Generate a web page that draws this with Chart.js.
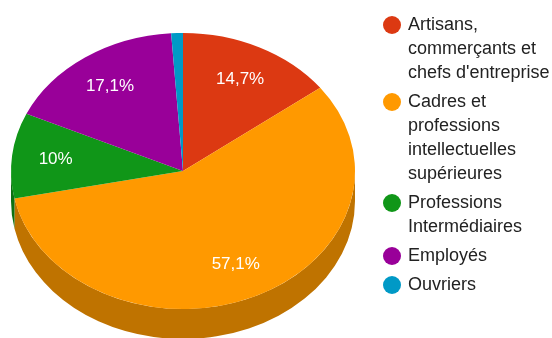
<!DOCTYPE html>
<html>
<head>
<meta charset="utf-8">
<script src="https://cdn.jsdelivr.net/npm/chart.js@4/dist/chart.umd.min.js"></script>
<style>
  html, body { margin: 0; padding: 0; background: #fff; }
  #wrap { width: 552px; height: 338px; position: relative; }
</style>
</head>
<body>
<div id="wrap"><canvas id="myChart"></canvas></div>
<script>
// catégories (une ligne de légende par élément du tableau)
var categories = [
  ['Artisans,', 'commerçants et', "chefs d'entreprise"],
  ['Cadres et', 'professions', 'intellectuelles', 'supérieures'],
  ['Professions', 'Intermédiaires'],
  ['Employés'],
  ['Ouvriers']
];
// parts en %
var parts = [14.7, 57.1, 10, 17.1, 1.1];
var couleurs = ['#DC3912', '#FF9900', '#109618', '#990099', '#0099C6'];

// effet 3D : ellipse étirée en largeur + épaisseur
var etirement = 172 / 138;
var epaisseur = 30;

// assombrit une couleur hex pour la tranche
function assombrir(hex, f) {
  var n = parseInt(hex.slice(1), 16);
  var r = Math.round(((n >> 16) & 255) * f);
  var g = Math.round(((n >> 8) & 255) * f);
  var b = Math.round((n & 255) * f);
  return 'rgb(' + r + ',' + g + ',' + b + ')';
}

function texteValeur(v) {
  return String(v).replace('.', ',') + '%';
}

var pie3d = {
  id: 'pie3d',
  beforeDatasetsDraw: function(chart) {
    var ctx = chart.ctx;
    var arcs = chart.getDatasetMeta(0).data;
    var cx = arcs[0].x, cy = arcs[0].y, r = arcs[0].outerRadius;
    ctx.save();
    ctx.translate(cx, cy);
    ctx.scale(etirement, 1);
    ctx.translate(-cx, -cy);
    // côtés visibles : seulement la moitié avant (0..PI)
    arcs.forEach(function(arc, i) {
      var s = Math.max(arc.startAngle, 0);
      var e = Math.min(arc.endAngle, Math.PI);
      if (s >= e) return;
      ctx.beginPath();
      ctx.arc(cx, cy + epaisseur, r, s, e);
      ctx.arc(cx, cy, r, e, s, true);
      ctx.closePath();
      ctx.fillStyle = assombrir(couleurs[i], 0.75);
      ctx.fill();
    });
  },
  afterDatasetsDraw: function(chart) {
    var ctx = chart.ctx;
    ctx.restore();
    var arcs = chart.getDatasetMeta(0).data;
    ctx.save();
    ctx.font = '17px "Liberation Sans", Arial, sans-serif';
    ctx.fillStyle = '#ffffff';
    ctx.textAlign = 'center';
    ctx.textBaseline = 'middle';
    arcs.forEach(function(arc, i) {
      if (parts[i] < 5) return;
      var mid = (arc.startAngle + arc.endAngle) / 2;
      var k = 0.745;
      var px = arc.x + Math.cos(mid) * arc.outerRadius * k * etirement;
      var py = arc.y + Math.sin(mid) * arc.outerRadius * k;
      ctx.fillText(texteValeur(parts[i]), px, py);
    });
    ctx.restore();
  },
  afterDraw: function(chart) {
    // légende à droite, texte sur plusieurs lignes
    var ctx = chart.ctx;
    ctx.save();
    ctx.font = '18px "Liberation Sans", Arial, sans-serif';
    ctx.textBaseline = 'middle';
    ctx.textAlign = 'left';
    var y = 25;
    categories.forEach(function(lignes, i) {
      ctx.beginPath();
      ctx.arc(392, y, 9, 0, Math.PI * 2);
      ctx.fillStyle = couleurs[i];
      ctx.fill();
      ctx.fillStyle = '#222222';
      lignes.forEach(function(l, j) {
        ctx.fillText(l, 408, y + j * 24);
      });
      y += (lignes.length - 1) * 24 + 29;
    });
    ctx.restore();
  }
};

var ctx = document.getElementById('myChart').getContext('2d');
var myChart = new Chart(ctx, {
  type: 'pie',
  data: {
    labels: categories,
    datasets: [{
      data: parts,
      backgroundColor: couleurs,
      borderWidth: 0,
      hoverOffset: 0,
      offset: 0
    }]
  },
  options: {
    responsive: true,
    maintainAspectRatio: false,
    animation: false,
    layout: { padding: { left: 45, top: 33, right: 231, bottom: 29 } },
    plugins: {
      legend: { display: false },
      tooltip: { enabled: false }
    },
    events: []
  },
  plugins: [pie3d]
});
</script>
</body>
</html>
